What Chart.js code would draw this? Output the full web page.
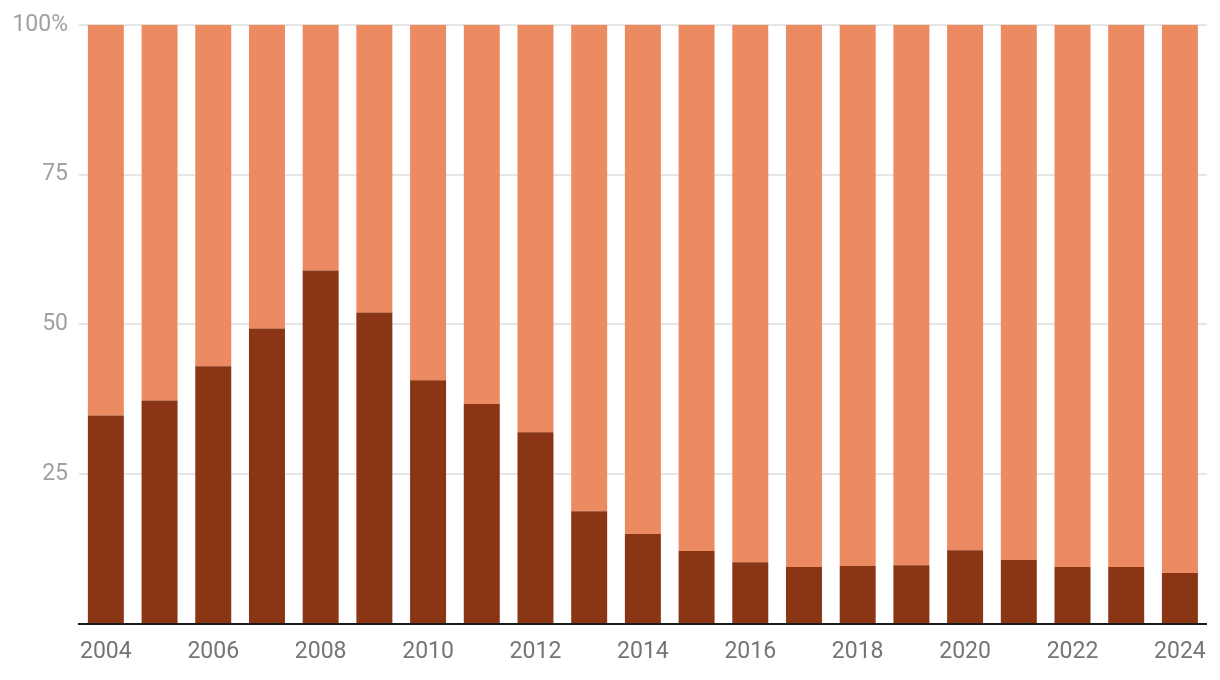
<!DOCTYPE html>
<html>
<head>
<meta charset="utf-8">
<script src="https://cdn.jsdelivr.net/npm/chart.js@4"></script>
<style>
    html, body { margin: 0; padding: 0; background: #fff; }
    #wrap { width: 1220px; height: 680px; }
</style>
</head>
<body>
<div id="wrap"><canvas id="shareChart"></canvas></div>
<script>
// Data
const years = ['2004', '2005', '2006', '2007', '2008', '2009', '2010', '2011', '2012', '2013',
    '2014', '2015', '2016', '2017', '2018', '2019', '2020', '2021', '2022', '2023', '2024'];
const lowerShare = [34.8, 37.3, 43, 49.3, 59, 52, 40.7, 36.7, 32, 18.8,
    15, 12.2, 10.3, 9.5, 9.7, 9.8, 12.3, 10.7, 9.5, 9.5, 8.5];
const upperShare = [65.2, 62.7, 57, 50.7, 41, 48, 59.3, 63.3, 68, 81.2,
    85, 87.8, 89.7, 90.5, 90.3, 90.2, 87.7, 89.3, 90.5, 90.5, 91.5];
const yTicks = [0, 25, 50, 75, 100];

const ctx = document.getElementById('shareChart');

new Chart(ctx, {
    type: 'bar',
    data: {
        labels: years,
        datasets: [{
            data: lowerShare,
            backgroundColor: '#8a3513',
            categoryPercentage: 1,
            barPercentage: 0.67
        }, {
            data: upperShare,
            backgroundColor: '#ec8b61',
            categoryPercentage: 1,
            barPercentage: 0.67
        }]
    },
    options: {
        responsive: true,
        maintainAspectRatio: false,
        animation: false,
        layout: {
            padding: { top: 23, right: 10, bottom: 0, left: 0 }
        },
        scales: {
            x: {
                stacked: true,
                grid: { display: false, drawTicks: false },
                border: { color: '#1a1a1a', width: 2 },
                ticks: {
                    color: '#757575',
                    font: { family: 'Roboto', size: 23 },
                    padding: 14,
                    maxRotation: 0,
                    autoSkip: false,
                    callback: function (value, index) {
                        return index % 2 === 0 ? years[index] : '';
                    }
                },
                afterFit: function (axis) { axis.height = 56; }
            },
            y: {
                stacked: true,
                min: 0,
                max: 100,
                afterBuildTicks: function (axis) {
                    axis.ticks = yTicks.map(v => ({ value: v }));
                },
                grid: {
                    drawTicks: false,
                    lineWidth: 2,
                    color: function (c) {
                        return c.tick && c.tick.value === 0 ? 'rgba(0,0,0,0)' : '#e6e6e6';
                    }
                },
                border: { display: false },
                ticks: {
                    color: '#a0a0a0',
                    font: { family: 'Roboto', size: 23 },
                    padding: 11,
                    callback: function (value) {
                        if (value === 0) return '';
                        return value === 100 ? '100%' : value;
                    }
                },
                afterFit: function (axis) { axis.width = 79; }
            }
        },
        plugins: {
            legend: { display: false },
            tooltip: { enabled: false }
        }
    }
});
</script>
</body>
</html>
